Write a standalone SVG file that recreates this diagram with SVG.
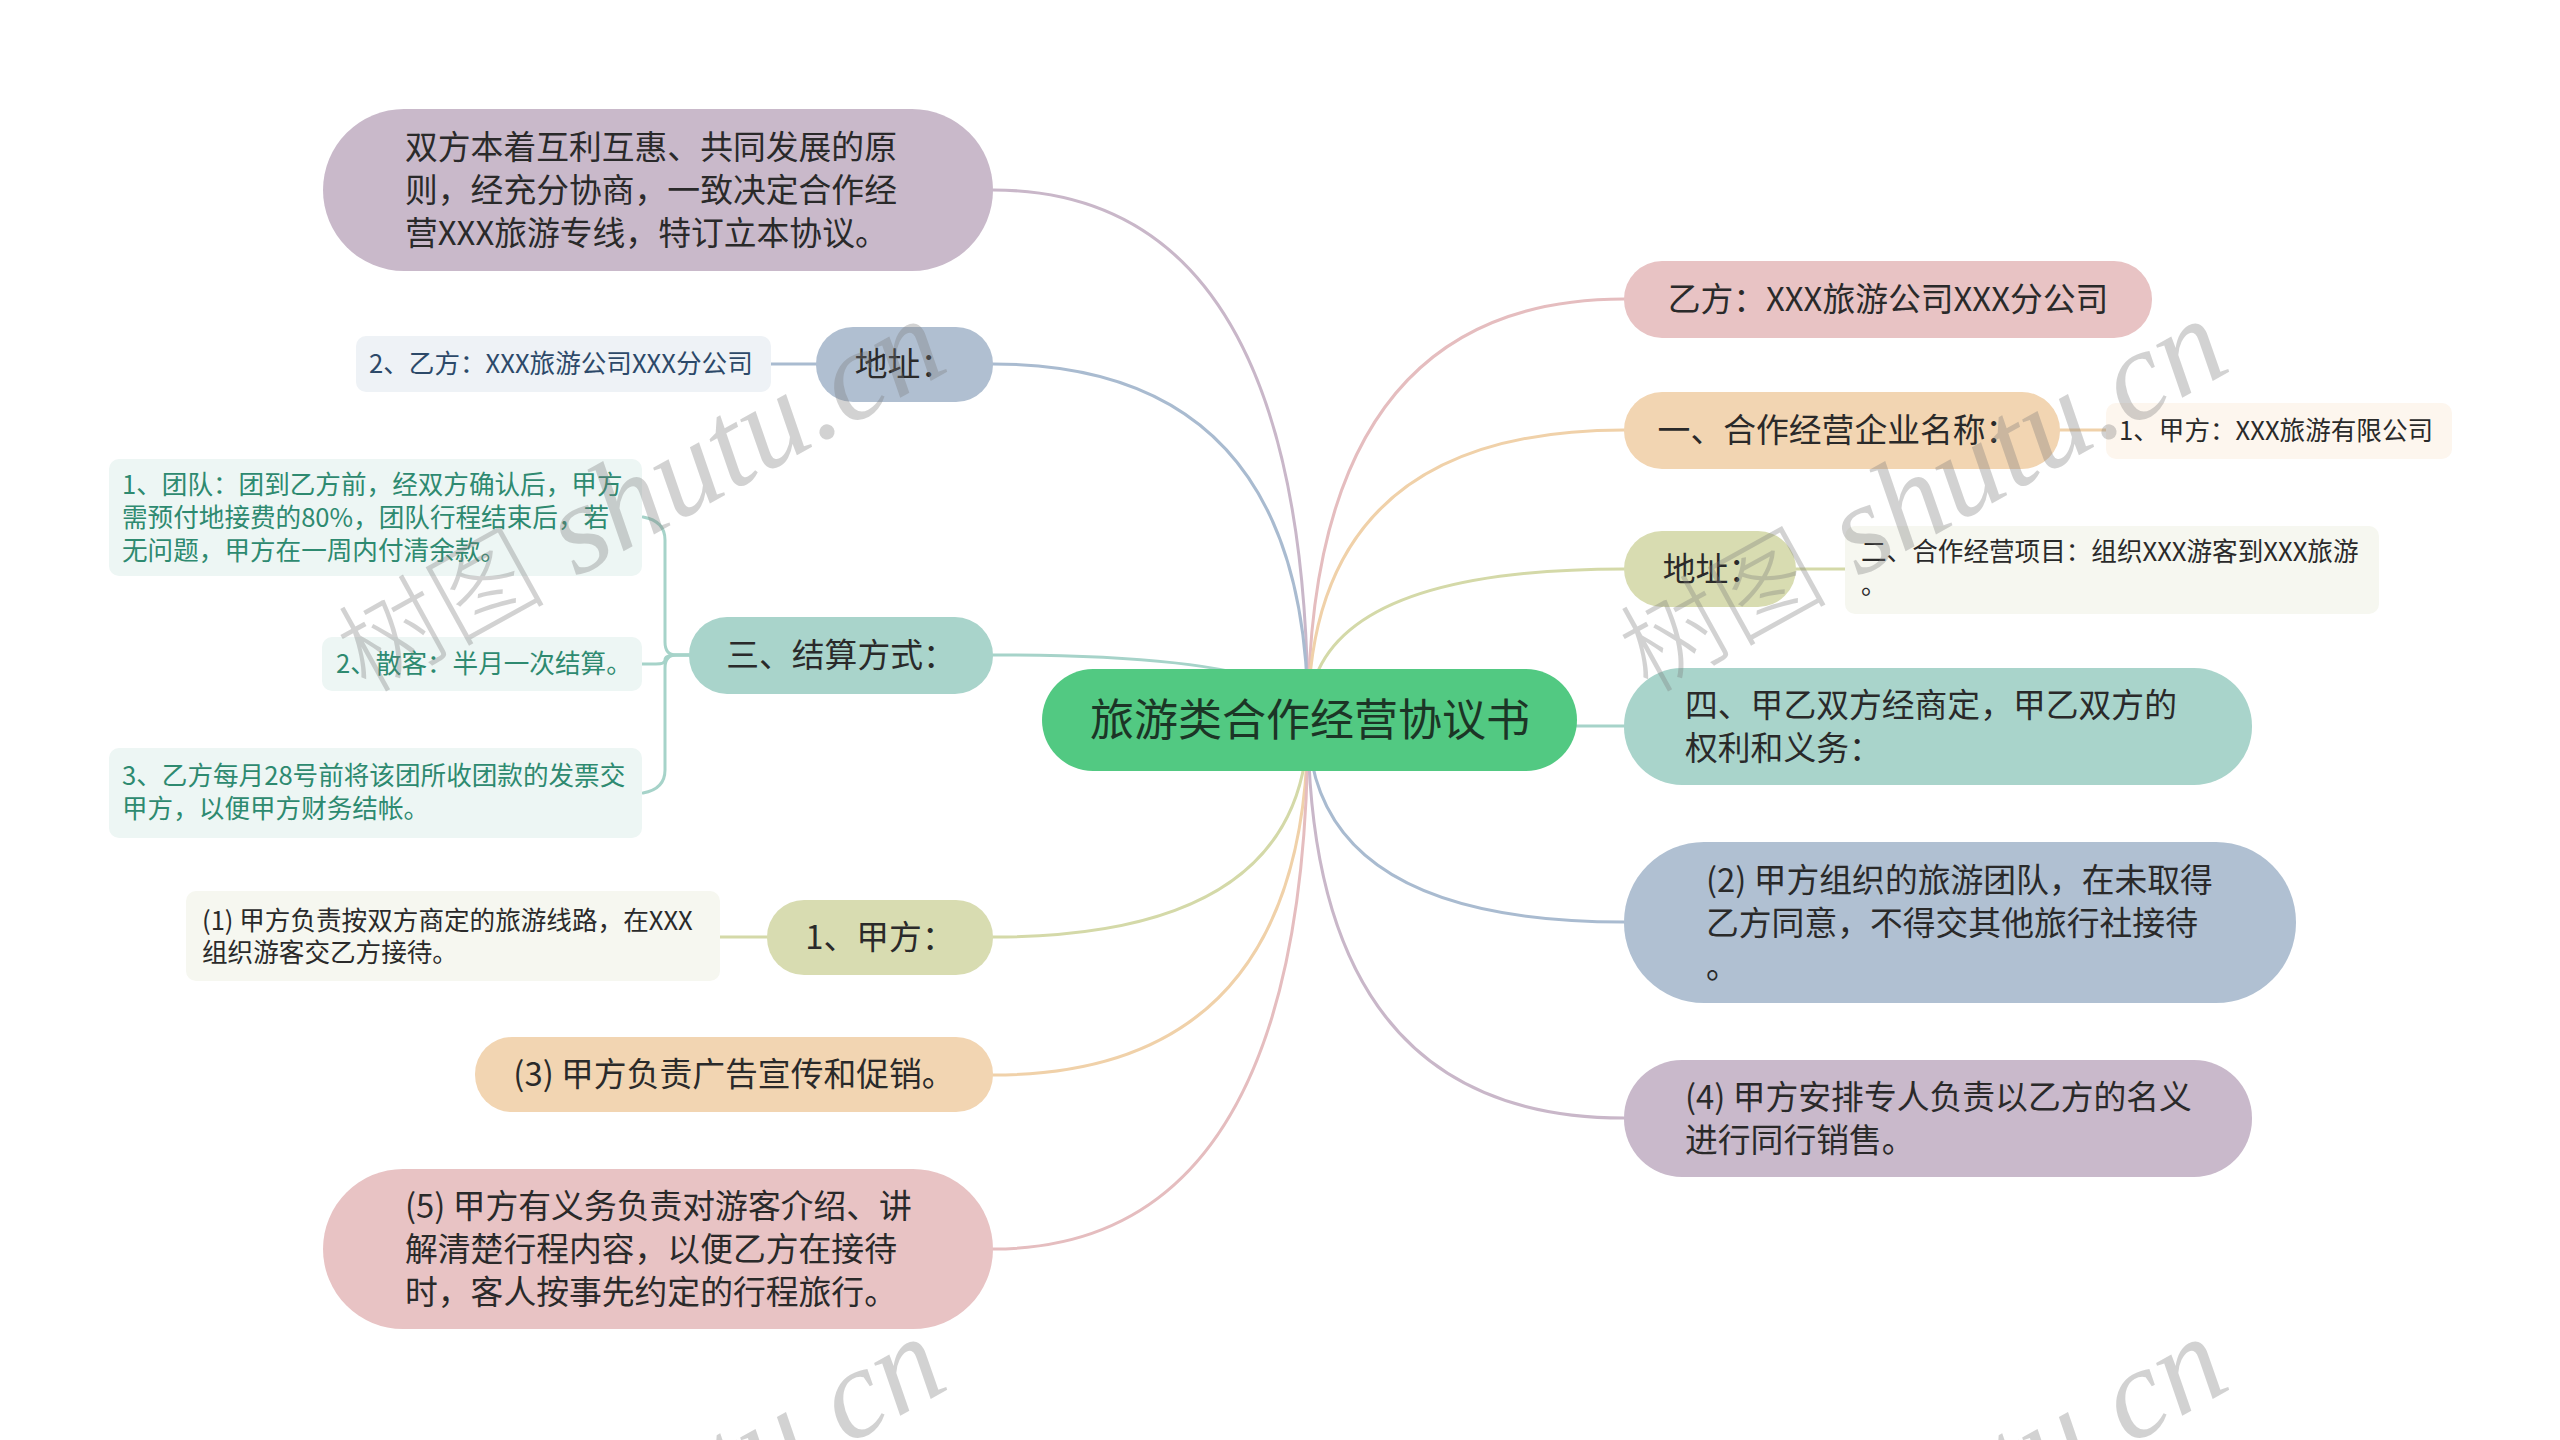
<svg xmlns="http://www.w3.org/2000/svg" width="2560" height="1440" viewBox="0 0 2560 1440">
<style>
.t{font-family:"Noto Sans CJK SC","Noto Sans",sans-serif;fill:#2a2a2a}
.l2{font-size:32.8px}
.root{font-size:44px;fill:#1c3526}
.lf{font-size:25.6px}
.c{fill:none;stroke-width:3;stroke-linecap:round}
.wm{fill:#7a7a7a;opacity:.33}
</style>
<rect width="2560" height="1440" fill="#ffffff"/>
<g id="connectors">
<path class="c" stroke="#c9b7c9" d="M1308 720 Q1308 190 993 190"/>
<path class="c" stroke="#a9bbd0" d="M1308 720 Q1308 364 993 364"/>
<path class="c" stroke="#a6d3c9" d="M1308 720 Q1308 655 993 655"/>
<path class="c" stroke="#d4d9a8" d="M1308 720 Q1308 937 993 937"/>
<path class="c" stroke="#f0d1a9" d="M1308 720 Q1308 1075 993 1075"/>
<path class="c" stroke="#e5bdbf" d="M1308 720 Q1308 1249 993 1249"/>
<path class="c" stroke="#e5bdbf" d="M1308 720 Q1308 299 1624 299"/>
<path class="c" stroke="#f0d1a9" d="M1308 720 Q1308 430 1624 430"/>
<path class="c" stroke="#d4d9a8" d="M1308 720 Q1308 569 1624 569"/>
<path class="c" stroke="#a6d3c9" d="M1308 720 Q1308 726 1624 726"/>
<path class="c" stroke="#a9bbd0" d="M1308 720 Q1308 922 1624 922"/>
<path class="c" stroke="#c9b7c9" d="M1308 720 Q1308 1118 1624 1118"/>
<path class="c" stroke="#a9bbd0" d="M771 364 L816 364"/>
<path class="c" stroke="#f0d1a9" d="M2060 430 L2106 430"/>
<path class="c" stroke="#d4d9a8" d="M1796 569 L1845 569"/>
<path class="c" stroke="#d4d9a8" d="M720 937 L767 937"/>
<path class="c" stroke="#a6d3c9" d="M689 655 L676 655 Q665 655 665 642 L665 540 Q665 521 643 517"/>
<path class="c" stroke="#a6d3c9" d="M689 655 L676 655 Q665 655 665 660 Q665 664 656 664 L642 664"/>
<path class="c" stroke="#a6d3c9" d="M689 655 L676 655 Q665 655 665 668 L665 770 Q665 789 643 793"/>
</g>
<g id="root">
<rect x="1042" y="669" width="535" height="102" rx="51" fill="#52c982"/>
<text class="t root" x="1310" y="736" text-anchor="middle">旅游类合作经营协议书</text>
</g>
<g id="n-intro">
<rect x="323" y="109" width="670" height="162" rx="81" fill="#c9b9ca"/>
<text class="t l2" x="405" y="159">双方本着互利互惠、共同发展的原</text>
<text class="t l2" x="405" y="202">则，经充分协商，一致决定合作经</text>
<text class="t l2" x="405" y="245">营XXX旅游专线，特订立本协议。</text>
</g>
<g id="n-addr-left">
<rect x="816" y="327" width="177" height="75" rx="37" fill="#b0bfd1"/>
<text class="t l2" x="904" y="376" text-anchor="middle">地址：</text>
</g>
<g id="n-addr-left-leaf">
<rect x="356" y="336" width="415" height="56" rx="10" fill="#eef2f6"/>
<text class="t lf" x="369" y="373" style="fill:#2c4969">2、乙方：XXX旅游公司XXX分公司</text>
</g>
<g id="n-settle">
<rect x="689" y="617" width="304" height="77" rx="38" fill="#a9d4cb"/>
<text class="t l2" x="841" y="667" text-anchor="middle">三、结算方式：</text>
</g>
<g id="n-settle-1">
<rect x="109" y="459" width="533" height="117" rx="10" fill="#edf6f4"/>
<text class="t lf" style="fill:#2e8a70" x="122" y="494">1、团队：团到乙方前，经双方确认后，甲方</text>
<text class="t lf" style="fill:#2e8a70" x="122" y="527">需预付地接费的80%，团队行程结束后，若</text>
<text class="t lf" style="fill:#2e8a70" x="122" y="560">无问题，甲方在一周内付清余款。</text>
</g>
<g id="n-settle-2">
<rect x="322" y="637" width="320" height="54" rx="10" fill="#edf6f4"/>
<text class="t lf" style="fill:#2e8a70" x="336" y="673">2、散客：半月一次结算。</text>
</g>
<g id="n-settle-3">
<rect x="109" y="748" width="533" height="90" rx="10" fill="#edf6f4"/>
<text class="t lf" style="fill:#2e8a70" x="122" y="785">3、乙方每月28号前将该团所收团款的发票交</text>
<text class="t lf" style="fill:#2e8a70" x="122" y="818">甲方，以便甲方财务结帐。</text>
</g>
<g id="n-partyA">
<rect x="767" y="900" width="226" height="75" rx="37" fill="#d8dcb1"/>
<text class="t l2" x="880" y="949" text-anchor="middle">1、甲方：</text>
</g>
<g id="n-partyA-leaf">
<rect x="186" y="891" width="534" height="90" rx="10" fill="#f6f7f0"/>
<text class="t lf" x="202" y="930">(1) 甲方负责按双方商定的旅游线路，在XXX</text>
<text class="t lf" x="202" y="962">组织游客交乙方接待。</text>
</g>
<g id="n-ad">
<rect x="475" y="1037" width="518" height="75" rx="37" fill="#f2d5b2"/>
<text class="t l2" x="734" y="1086" text-anchor="middle">(3) 甲方负责广告宣传和促销。</text>
</g>
<g id="n-duty5">
<rect x="323" y="1169" width="670" height="160" rx="80" fill="#e8c3c4"/>
<text class="t l2" x="405" y="1218">(5) 甲方有义务负责对游客介绍、讲</text>
<text class="t l2" x="405" y="1261">解清楚行程内容，以便乙方在接待</text>
<text class="t l2" x="405" y="1304">时，客人按事先约定的行程旅行。</text>
</g>
<g id="n-partyB">
<rect x="1624" y="261" width="528" height="77" rx="38" fill="#e8c3c4"/>
<text class="t l2" x="1888" y="311" text-anchor="middle">乙方：XXX旅游公司XXX分公司</text>
</g>
<g id="n-names">
<rect x="1624" y="392" width="436" height="77" rx="38" fill="#f2d5b2"/>
<text class="t l2" x="1838" y="442" text-anchor="middle">一、合作经营企业名称：</text>
</g>
<g id="n-names-leaf">
<rect x="2106" y="403" width="346" height="56" rx="10" fill="#fdf6ee"/>
<text class="t lf" x="2119" y="440">1、甲方：XXX旅游有限公司</text>
</g>
<g id="n-addr-right">
<rect x="1624" y="531" width="172" height="76" rx="38" fill="#d8dcb1"/>
<text class="t l2" x="1712" y="581" text-anchor="middle">地址：</text>
</g>
<g id="n-addr-right-leaf">
<rect x="1845" y="526" width="534" height="88" rx="10" fill="#f6f7f0"/>
<text class="t lf" x="1861" y="561">二、合作经营项目：组织XXX游客到XXX旅游</text>
<text class="t lf" x="1861" y="594">。</text>
</g>
<g id="n-rights">
<rect x="1624" y="668" width="628" height="117" rx="58" fill="#a9d4cb"/>
<text class="t l2" x="1685" y="717">四、甲乙双方经商定，甲乙双方的</text>
<text class="t l2" x="1685" y="760">权利和义务：</text>
</g>
<g id="n-duty2">
<rect x="1624" y="842" width="672" height="161" rx="80" fill="#b0c0d2"/>
<text class="t l2" x="1706" y="892">(2) 甲方组织的旅游团队，在未取得</text>
<text class="t l2" x="1706" y="935">乙方同意，不得交其他旅行社接待</text>
<text class="t l2" x="1706" y="978">。</text>
</g>
<g id="n-duty4">
<rect x="1624" y="1060" width="628" height="117" rx="58" fill="#c9b9cb"/>
<text class="t l2" x="1685" y="1109">(4) 甲方安排专人负责以乙方的名义</text>
<text class="t l2" x="1685" y="1152">进行同行销售。</text>
</g>
<g id="watermark">
<text class="wm" transform="translate(366 694) rotate(-29)"><tspan font-family="Noto Sans CJK SC,sans-serif" font-size="104" font-weight="300">树图</tspan><tspan font-family="Liberation Serif,serif" font-style="italic" font-size="128"> shutu.cn</tspan></text>
<text class="wm" transform="translate(1648 694) rotate(-29)"><tspan font-family="Noto Sans CJK SC,sans-serif" font-size="104" font-weight="300">树图</tspan><tspan font-family="Liberation Serif,serif" font-style="italic" font-size="128"> shutu.cn</tspan></text>
<text class="wm" transform="translate(366 1712) rotate(-29)"><tspan font-family="Noto Sans CJK SC,sans-serif" font-size="104" font-weight="300">树图</tspan><tspan font-family="Liberation Serif,serif" font-style="italic" font-size="128"> shutu.cn</tspan></text>
<text class="wm" transform="translate(1648 1712) rotate(-29)"><tspan font-family="Noto Sans CJK SC,sans-serif" font-size="104" font-weight="300">树图</tspan><tspan font-family="Liberation Serif,serif" font-style="italic" font-size="128"> shutu.cn</tspan></text>
</g>
</svg>
